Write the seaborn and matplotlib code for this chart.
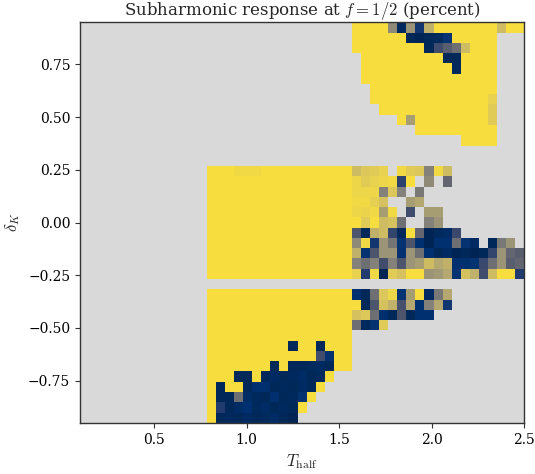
import numpy as np
import pandas as pd
import matplotlib
matplotlib.use("Agg")
import matplotlib.pyplot as plt
import seaborn as sns

# Sweep grid
T_half = np.round(np.linspace(0.10, 2.50, 49), 2)
delta_K = np.round(np.linspace(0.95, -0.95, 39), 2)

N = None   # no subharmonic response recorded
Y = 100    # full response

# Subharmonic response (percent) along each delta_K row:
# (first T_half of the run, values for consecutive T_half)
response_rows = {
    0.95: (1.60, [Y, Y, Y, Y, 60, 4, 65, 12, 80, Y, Y, Y, Y, Y, Y, Y, 85, Y, Y]),
    0.90: (1.60, [Y, Y, Y, Y, Y, Y, 3, 2, 3, 4, 10, Y, Y, Y, Y, Y]),
    0.85: (1.60, [Y, Y, Y, Y, Y, Y, Y, Y, 3, 25, 35, 45, 85, Y, Y, Y]),
    0.80: (1.65, [Y, Y, Y, Y, Y, Y, Y, Y, Y, 3, 3, Y, Y, Y, Y]),
    0.75: (1.65, [Y, Y, Y, Y, Y, Y, Y, Y, Y, Y, 4, Y, Y, Y, Y]),
    0.70: (1.65, [Y, Y, Y, Y, Y, Y, Y, Y, Y, Y, Y, Y, Y, Y, Y]),
    0.65: (1.70, [Y, Y, Y, Y, Y, Y, Y, Y, Y, Y, Y, Y, Y, Y]),
    0.60: (1.70, [Y, Y, Y, Y, Y, Y, Y, Y, Y, Y, Y, Y, Y, 95]),
    0.55: (1.75, [Y, Y, Y, Y, Y, Y, Y, Y, Y, Y, Y, Y, 92]),
    0.50: (1.85, [Y, 70, Y, Y, Y, Y, Y, Y, Y, Y, 92]),
    0.45: (1.95, [Y, Y, Y, Y, Y, Y, Y, Y, Y]),
    0.40: (2.20, [Y, Y, Y, Y]),
    0.25: (0.80, [Y, Y, Y, 98, 98, 98, Y, Y, Y, Y, Y, Y, Y, Y, Y, Y,
                  85, 90, 92, 95, N, 98, 92, 90, 55, 98, 85]),
    0.20: (0.80, [Y, Y, Y, Y, Y, Y, Y, Y, Y, Y, Y, Y, Y, Y, Y, Y,
                  97, 92, 95, 97, 98, 18, Y, N, 60, N, 40]),
    0.15: (0.80, [Y, Y, Y, Y, Y, Y, Y, Y, Y, Y, Y, Y, Y, Y, Y, Y,
                  97, 97, 97, 55, 90, 55, N, 50]),
    0.10: (0.80, [Y, Y, Y, Y, Y, Y, Y, Y, Y, Y, Y, Y, Y, Y, Y, Y,
                  98, 98, 94, 88, N, N, 70, 75]),
    0.05: (0.80, [Y, Y, Y, Y, Y, Y, Y, Y, Y, Y, Y, Y, Y, Y, Y, Y,
                  97, 96, 98, 70, 98, N, 25, N, 70, 70]),
    0.00: (0.80, [Y, Y, Y, Y, Y, Y, Y, Y, Y, Y, Y, Y, Y, Y, Y, Y,
                  Y, 92, Y, 85, 88, 45, N, N, 55, 65]),
    -0.05: (0.80, [Y, Y, Y, Y, Y, Y, Y, Y, Y, Y, Y, Y, Y, Y, Y, Y,
                   30, 3, 80, 85, 20, 3, Y, 40, 2, 4, 6, 22]),
    -0.10: (0.80, [Y, Y, Y, Y, Y, Y, Y, Y, Y, Y, Y, Y, Y, Y, Y, Y,
                   60, 98, 12, 65, 48, 10, 30, 8, 2, 8, 8, 45, 10, 5, N, 3, 50, 65]),
    -0.15: (0.80, [Y, Y, Y, Y, Y, Y, Y, Y, Y, Y, Y, Y, Y, Y, Y, Y,
                   80, 10, 30, 65, 65, 8, 65, 45, 8, 3, 5, 2, 3, 2, 3, 20, 65, 40, 35]),
    -0.20: (0.80, [Y, Y, Y, Y, Y, Y, Y, Y, Y, Y, Y, Y, Y, Y, Y, Y,
                   55, 45, 55, 25, 55, 30, 65, 70, 85, 75, 80, 8, 8, 10, 22, 45, 65, 35, 40]),
    -0.25: (0.80, [Y, Y, Y, Y, Y, Y, Y, Y, Y, Y, Y, Y, Y, Y, Y, Y,
                   95, 15, 98, 2, 92, 88, Y, Y, 65, 68, 75, 10, 88, 80, 25, 85, Y, Y, 15]),
    -0.35: (0.80, [Y, Y, Y, Y, Y, Y, Y, Y, Y, Y, Y, Y, Y, Y, Y, Y,
                   8, 3, 45, 90, 97, 10, 70, Y, 5, 50, 75]),
    -0.40: (0.80, [Y, Y, Y, Y, Y, Y, Y, Y, Y, Y, Y, Y, Y, Y, Y, Y,
                   Y, 3, 30, 88, 80, 28, 75, 8, 55, 75, 12]),
    -0.45: (0.80, [Y, Y, Y, Y, Y, Y, Y, Y, Y, Y, Y, Y, Y, Y, Y, Y,
                   88, 90, 45, 8, 3, 30, 3, 8, 8]),
    -0.50: (0.80, [Y, Y, Y, Y, Y, Y, Y, Y, Y, Y, Y, Y, Y, Y, Y, Y,
                   45, 4, 10, 92]),
    -0.55: (0.80, [Y, Y, Y, Y, Y, Y, Y, Y, Y, Y, Y, Y, Y, Y, Y, Y]),
    -0.60: (0.80, [Y, Y, Y, Y, Y, Y, Y, Y, Y, 3, Y, Y, 3, Y, Y, Y]),
    -0.65: (0.80, [Y, Y, Y, Y, Y, Y, Y, Y, Y, Y, Y, Y, 25, 10, Y, Y]),
    -0.70: (0.80, [Y, Y, Y, Y, Y, Y, Y, 3, Y, 3, 3, 4, 5, 3, Y, Y]),
    -0.75: (0.80, [Y, Y, Y, 3, 3, Y, 3, 5, 3, 4, 6, 3, 4, Y]),
    -0.80: (0.80, [Y, 3, Y, Y, 3, 8, 8, 3, 4, 3, 5, 3, Y]),
    -0.85: (0.80, [Y, 3, 3, 45, 6, 4, 3, 8, 3, 4, 10, Y]),
    -0.90: (0.80, [Y, 15, 3, 6, 8, 4, 6, 3, 4, 3, Y]),
    -0.95: (0.80, [Y, 3, 4, 3, 5, 3, 4, 6, 3, 2]),
}

x_ticks = [0.5, 1.0, 1.5, 2.0, 2.5]
y_ticks = [0.75, 0.50, 0.25, 0.00, -0.25, -0.50, -0.75]

# Assemble the response table (rows: delta_K, columns: T_half)
table = pd.DataFrame(np.nan, index=delta_K, columns=T_half)
for d, (t0, vals) in response_rows.items():
    i = int(np.argmin(np.abs(delta_K - d)))
    j = int(np.argmin(np.abs(T_half - t0)))
    table.iloc[i, j:j + len(vals)] = np.array(vals, dtype=float)

sns.set_theme(style="ticks")
plt.rcParams["font.family"] = ["DejaVu Serif"]
plt.rcParams["mathtext.fontset"] = "cm"

fig = plt.figure(figsize=(5.35, 4.74), dpi=100)
ax = fig.add_axes([0.1495, 0.108, 0.8303, 0.845])
ax.set_facecolor("#d9d9d9")

sns.heatmap(table, cmap="cividis", vmin=0, vmax=104, cbar=False, ax=ax,
            xticklabels=False, yticklabels=False)

# The image spans T_half in [0.1, 2.5] and delta_K in [-0.95, 0.95]
ncol, nrow = table.shape[1], table.shape[0]
def x_pos(t):
    return (t - T_half[0]) / (T_half[-1] - T_half[0]) * ncol
def y_pos(d):
    return (delta_K[0] - d) / (delta_K[0] - delta_K[-1]) * nrow

ax.set_xticks([x_pos(t) for t in x_ticks])
ax.set_xticklabels([f"{t:.1f}" for t in x_ticks])
ax.set_yticks([y_pos(d) for d in y_ticks])
ax.set_yticklabels([f"{d:.2f}".replace("-", "\u2212") for d in y_ticks])
ax.tick_params(axis="both", direction="out", length=3.5, width=0.8,
               colors="#333333", labelcolor="black", labelsize=10, rotation=0)
ax.tick_params(top=False, right=False)

for s in ax.spines.values():
    s.set_visible(True)
    s.set_color("#333333")
    s.set_linewidth(1.0)

ax.set_xlabel(r"$T_{\rm half}$", fontsize=12, labelpad=4)
ax.set_ylabel(r"$\delta_K$", fontsize=12, labelpad=4)
ax.set_title(r"Subharmonic response at $f = 1/2$ (percent)", fontsize=12, pad=4)

fig.savefig("out.png", dpi=100)
